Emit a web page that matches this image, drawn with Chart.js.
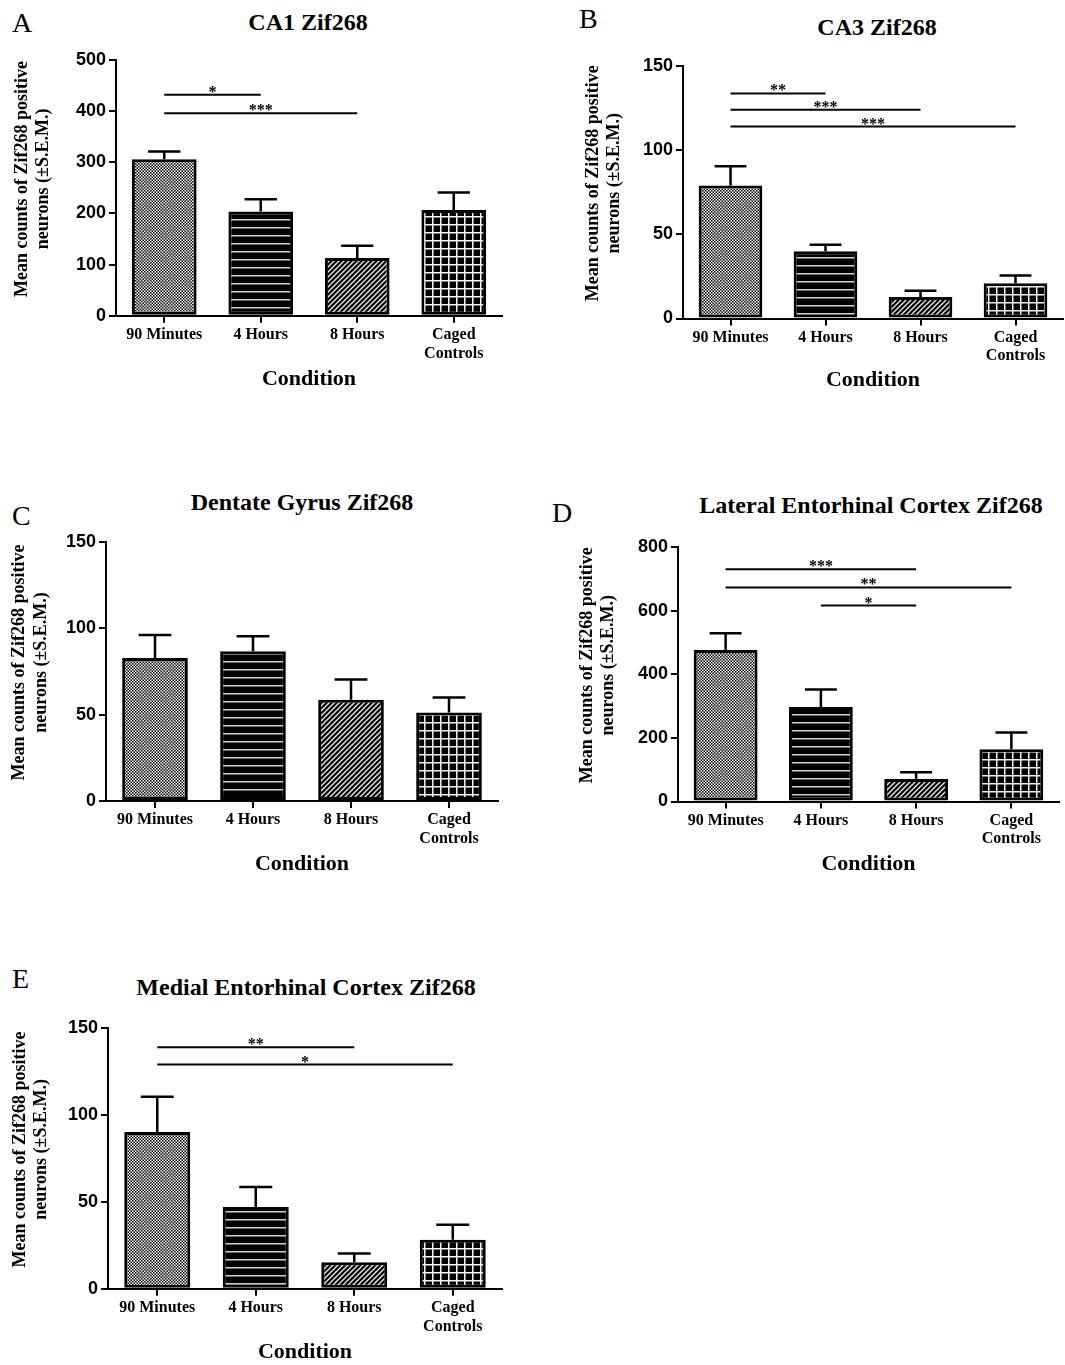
<!DOCTYPE html>
<html>
<head>
<meta charset="utf-8">
<script src="https://cdn.jsdelivr.net/npm/chart.js@4.4.1/dist/chart.umd.min.js"></script>
<style>
body { margin: 0; background: #fff; width: 1065px; height: 1365px; position: relative; overflow: hidden; }
.panel-letter { position: absolute; font: 28px/28px "Liberation Serif", "Times New Roman", serif; color: #000; }
.panel-title { position: absolute; font: bold 24px/24px "Liberation Serif", "Times New Roman", serif; color: #000; transform: translateX(-50%); white-space: nowrap; }
canvas { position: absolute; }
</style>
</head>
<body>
<script>
// DATA
const categories = ["90 Minutes", "4 Hours", "8 Hours", ["Caged", "Controls"]];

const ca1Means = [306, 204, 113, 207];
const ca1Sem = [15, 24, 24, 34];
const ca1Sig = [[0, 1, 432, "*"], [0, 2, 396, "***"]];

const ca3Means = [79, 39.9, 12.7, 21];
const ca3Sem = [11.5, 3.9, 3.8, 4.6];
const ca3Sig = [[0, 1, 133.7, "**"], [0, 2, 124, "***"], [0, 3, 114, "***"]];

const dgMeans = [82.8, 86.7, 58.7, 51.2];
const dgSem = [13.3, 8.7, 11.6, 8.8];
const dgSig = [];

const lecMeans = [476, 297, 71, 164];
const lecSem = [53, 55, 21, 53];
const lecSig = [[0, 2, 730, "***"], [0, 3, 673, "**"], [1, 2, 616, "*"]];

const mecMeans = [90.2, 47, 15.3, 28.2];
const mecSem = [20.3, 11.5, 5, 8.6];
const mecSig = [[0, 2, 139, "**"], [0, 3, 129, "*"]];

const yTitle = ["Mean counts of Zif268 positive", "neurons (\u00B1S.E.M.)"];
const xTitle = "Condition";

const serif = '"Liberation Serif", "Times New Roman", serif';
const sans = '"Liberation Sans", Arial, sans-serif';

// layout of each panel on the page
const panels = [
    {letter: "A", title: "CA1 Zif268", means: ca1Means, sem: ca1Sem, sig: ca1Sig, max: 500, step: 100,
     canvasX: 0, canvasR: 520, axisX: 116, right: 502, top: 60, bottom: 316, yTitleX: 22, condY: 380,
     letterPos: [12, 8.6], titlePos: [308, 10]},
    {letter: "B", title: "CA3 Zif268", means: ca3Means, sem: ca3Sem, sig: ca3Sig, max: 150, step: 50,
     canvasX: 540, canvasR: 1065, axisX: 683, right: 1063, top: 65.7, bottom: 317.7, yTitleX: 593, condY: 380,
     letterPos: [579, 4.6], titlePos: [877, 15]},
    {letter: "C", title: "Dentate Gyrus Zif268", means: dgMeans, sem: dgSem, sig: dgSig, max: 150, step: 50,
     canvasX: 0, canvasR: 520, axisX: 106, right: 498, top: 541.7, bottom: 800.7, yTitleX: 19.5, condY: 864.5,
     letterPos: [12, 501.6], titlePos: [302, 490]},
    {letter: "D", title: "Lateral Entorhinal Cortex Zif268", means: lecMeans, sem: lecSem, sig: lecSig, max: 800, step: 200,
     canvasX: 540, canvasR: 1065, axisX: 678, right: 1059, top: 546.7, bottom: 801.7, yTitleX: 587, condY: 865,
     letterPos: [552, 498.6], titlePos: [871, 493]},
    {letter: "E", title: "Medial Entorhinal Cortex Zif268", means: mecMeans, sem: mecSem, sig: mecSig, max: 150, step: 50,
     canvasX: 0, canvasR: 520, axisX: 108, right: 502, top: 1028.3, bottom: 1289, yTitleX: 20, condY: 1353,
     letterPos: [12, 964.6], titlePos: [306, 975]}
];


function make_pattern (ctx, kind) {
    const c = document.createElement("canvas");
    const g = c.getContext("2d");
    let scale = 1;
    if (kind === "check") {
        c.width = 4; c.height = 4;
        g.fillStyle = "#fff"; g.fillRect(0, 0, 4, 4);
        g.fillStyle = "#000"; g.fillRect(0, 0, 2, 2); g.fillRect(2, 2, 2, 2);
        scale = 0.75;
    } else if (kind === "hlines") {
        c.width = 4; c.height = 8;
        g.fillStyle = "#000"; g.fillRect(0, 0, 4, 8);
        g.fillStyle = "#d0d0d0"; g.fillRect(0, 3, 4, 1.5);
    } else if (kind === "hatch") {
        c.width = 5; c.height = 5;
        g.fillStyle = "#000"; g.fillRect(0, 0, 5, 5);
        g.strokeStyle = "#eee"; g.lineWidth = 1.3;
        g.beginPath();
        g.moveTo(-1, 6); g.lineTo(6, -1);
        g.moveTo(-1, 1); g.lineTo(1, -1);
        g.moveTo(4, 6); g.lineTo(6, 4);
        g.stroke();
    } else {
        c.width = 8; c.height = 8;
        g.fillStyle = "#000"; g.fillRect(0, 0, 8, 8);
        g.fillStyle = "#f4f4f4"; g.fillRect(0, 0, 8, 1.5); g.fillRect(0, 0, 1.5, 8);
    }
    const pat = ctx.createPattern(c, "repeat");
    if (scale !== 1) pat.setTransform(new DOMMatrix().scale(scale));
    return pat;
}


function add_text (cls, text, x, y) {
    const d = document.createElement("div");
    d.className = cls;
    d.textContent = text;
    d.style.left = x + "px";
    d.style.top = y + "px";
    document.body.appendChild(d);
}


function setup_panel (p) {
    add_text("panel-letter", p.letter, p.letterPos[0], p.letterPos[1]);
    add_text("panel-title", p.title, p.titlePos[0], p.titlePos[1]);

    const padTop = 20;
    const condLH = 22 * 1.2;
    const xAxisH = p.condY - p.bottom + condLH / 2;
    const width = p.canvasR - p.canvasX;
    const height = Math.round(padTop + (p.bottom - p.top) + xAxisH);

    const cv = document.createElement("canvas");
    cv.width = width;
    cv.height = height;
    cv.style.left = p.canvasX + "px";
    cv.style.top = (p.top - padTop) + "px";
    cv.style.width = width + "px";
    cv.style.height = height + "px";
    document.body.appendChild(cv);
    const ctx = cv.getContext("2d");

    const fills = [make_pattern(ctx, "check"), make_pattern(ctx, "hlines"), make_pattern(ctx, "hatch"), make_pattern(ctx, "grid")];

    // error bars, upward only, like the original
    const errorBars = {
        id: "errorBars",
        afterDatasetsDraw (chart) {
            const c = chart.ctx;
            const yScale = chart.scales.y;
            const meta = chart.getDatasetMeta(0);
            c.save();
            c.strokeStyle = "#000";
            c.lineWidth = 2.5;
            meta.data.forEach((bar, i) => {
                const yTop = yScale.getPixelForValue(p.means[i] + p.sem[i]);
                const half = bar.width / 4;
                c.beginPath();
                c.moveTo(bar.x, bar.y);
                c.lineTo(bar.x, yTop);
                c.moveTo(bar.x - half, yTop);
                c.lineTo(bar.x + half, yTop);
                c.stroke();
            });
            c.restore();
        }
    };

    // significance lines with stars
    const sigBars = {
        id: "sigBars",
        afterDatasetsDraw (chart) {
            const c = chart.ctx;
            const yScale = chart.scales.y;
            const meta = chart.getDatasetMeta(0);
            c.save();
            c.strokeStyle = "#000";
            c.fillStyle = "#000";
            c.lineWidth = 2;
            c.font = "bold 16px " + serif;
            c.textAlign = "center";
            c.textBaseline = "alphabetic";
            p.sig.forEach((s) => {
                const x1 = meta.data[s[0]].x;
                const x2 = meta.data[s[1]].x;
                const y = yScale.getPixelForValue(s[2]);
                c.beginPath();
                c.moveTo(x1, y);
                c.lineTo(x2, y);
                c.stroke();
                c.fillText(s[3], (x1 + x2) / 2, y + 2);
            });
            c.restore();
        }
    };

    // y axis title, two lines, sits a bit above the middle of the axis in the original
    const yTitlePlugin = {
        id: "yTitle",
        afterDraw (chart) {
            const c = chart.ctx;
            const area = chart.chartArea;
            const cy = (area.top + area.bottom) / 2 - 9;
            c.save();
            c.fillStyle = "#000";
            c.font = "bold 18px " + serif;
            c.textAlign = "center";
            c.textBaseline = "middle";
            yTitle.forEach((line, i) => {
                c.save();
                c.translate(p.yTitleX - p.canvasX + i * 21.6, cy);
                c.rotate(-Math.PI / 2);
                c.fillText(line, 0, 0);
                c.restore();
            });
            c.restore();
        }
    };

    new Chart(cv, {
        type: "bar",
        data: {
            labels: categories,
            datasets: [{
                data: p.means,
                backgroundColor: fills,
                borderColor: "#000",
                borderWidth: 3,
                borderSkipped: false,
                barPercentage: 0.67,
                categoryPercentage: 1
            }]
        },
        options: {
            responsive: false,
            animation: false,
            devicePixelRatio: 1,
            layout: {padding: {left: 0, top: padTop, right: p.canvasR - p.right, bottom: 0}},
            plugins: {legend: {display: false}, tooltip: {enabled: false}},
            scales: {
                x: {
                    grid: {offset: false, drawOnChartArea: false, drawTicks: true, tickLength: 7, color: "#000", lineWidth: 2},
                    border: {display: true, color: "#000", width: 2},
                    ticks: {color: "#000", padding: 3, maxRotation: 0, autoSkip: false,
                            font: {family: serif, weight: "bold", size: 16, lineHeight: 1.15}},
                    title: {display: true, text: xTitle, color: "#000", padding: 0,
                            font: {family: serif, weight: "bold", size: 22, lineHeight: 1.2}},
                    afterFit (s) { s.height = xAxisH; }
                },
                y: {
                    min: 0,
                    max: p.max,
                    grid: {drawOnChartArea: false, drawTicks: true, tickLength: 7, color: "#000", lineWidth: 2},
                    border: {display: true, color: "#000", width: 2},
                    ticks: {stepSize: p.step, color: "#000", padding: 3,
                            font: {family: sans, weight: "bold", size: 18}},
                    afterFit (s) { s.width = p.axisX - p.canvasX; }
                }
            }
        },
        plugins: [errorBars, sigBars, yTitlePlugin]
    });
}

panels.forEach(setup_panel);
</script>
</body>
</html>
